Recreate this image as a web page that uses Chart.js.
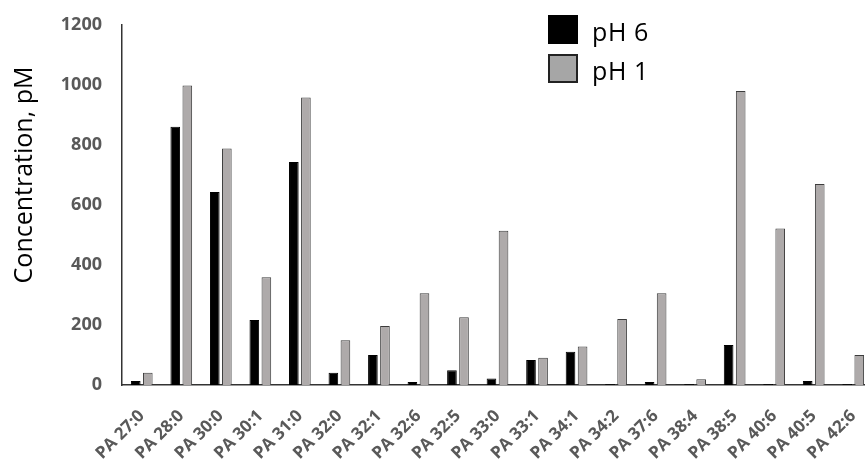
<!DOCTYPE html>
<html>
<head>
<meta charset="utf-8">
<script src="https://cdn.jsdelivr.net/npm/chart.js@4"></script>
<style>
  html, body { margin: 0; padding: 0; background: #fff; overflow: hidden; }
  #wrap { position: relative; width: 865px; height: 464px; overflow: hidden; }
  .legend-row { position: absolute; left: 548px; height: 30px; display: flex; align-items: center;
    font-family: "Open Sans", sans-serif; font-size: 25px; letter-spacing: 0.6px; color: #000; }
  .legend-box { width: 30px; height: 29px; margin-right: 14px; box-sizing: border-box; }
</style>
</head>
<body>
<div id="wrap">
  <!-- the plot area runs a little past the right edge, as in the original -->
  <canvas id="chart" width="873" height="464"></canvas>
  <div class="legend-row" style="top:16px"><span class="legend-box" style="background:#000;border:1px solid #000;margin-top:-3px"></span>pH 6</div>
  <div class="legend-row" style="top:55px"><span class="legend-box" style="background:#a6a6a6;border:2px solid #222;margin-top:-3px"></span>pH 1</div>
</div>
<script>
const lipids = ['PA 27:0', 'PA 28:0', 'PA 30:0', 'PA 30:1', 'PA 31:0', 'PA 32:0', 'PA 32:1', 'PA 32:6', 'PA 32:5', 'PA 33:0',
  'PA 33:1', 'PA 34:1', 'PA 34:2', 'PA 37:6', 'PA 38:4', 'PA 38:5', 'PA 40:6', 'PA 40:5', 'PA 42:6'];
const ph6 = [13, 861, 643, 217, 743, 41, 100, 10, 49, 22, 83, 111, 3, 10, 3, 133, 3, 13, 3];
const ph1 = [41, 998, 788, 359, 958, 149, 197, 306, 226, 514, 91, 128, 220, 306, 19, 980, 522, 670, 100];
const yTicks = [0, 200, 400, 600, 800, 1000, 1200];

const tickFont = { family: '"Open Sans", sans-serif', size: 18, weight: 'bold' };

// y axis title drawn by hand so it sits where the original has it
const yTitle = {
    id: 'yTitle',
    afterDraw(chart) {
        const ctx = chart.ctx;
        ctx.save();
        ctx.translate(25, 175);
        ctx.rotate(-Math.PI / 2);
        ctx.font = '25px "Open Sans", sans-serif';
        ctx.fillStyle = '#000';
        ctx.textAlign = 'center';
        ctx.textBaseline = 'middle';
        ctx.fillText('Concentration, pM', 0, 0);
        ctx.restore();
    }
};

new Chart(document.getElementById('chart'), {
    type: 'bar',
    data: {
        labels: lipids,
        datasets: [
            { label: 'pH 6', data: ph6, backgroundColor: '#000', borderColor: '#000', borderWidth: 1 },
            { label: 'pH 1', data: ph1, backgroundColor: '#aeaaaa', borderColor: '#3c3c3c', borderWidth: 1 }
        ]
    },
    options: {
        responsive: false,
        animation: false,
        devicePixelRatio: 1,
        datasets: { bar: { categoryPercentage: 0.61, barPercentage: 0.8 } },
        layout: { padding: { top: 25, right: 0, left: 0, bottom: 0 } },
        plugins: { legend: { display: false }, tooltip: { enabled: false } },
        scales: {
            x: {
                grid: { display: false, drawTicks: false },
                border: { display: true, color: '#333', width: 1.5 },
                ticks: { color: '#595959', font: { ...tickFont, size: 17 }, maxRotation: 45, minRotation: 45, padding: 21, autoSkip: false },
                afterFit: s => { s.height = 79; s.paddingLeft = 0; s.paddingRight = 0; }
            },
            y: {
                min: 0, max: 1200,
                afterBuildTicks: s => { s.ticks = yTicks.map(v => ({ value: v })); },
                grid: { display: false, drawTicks: false },
                border: { display: true, color: '#333', width: 1.5 },
                ticks: { color: '#595959', font: tickFont, padding: 20, callback: v => String(v) },
                afterFit: s => { s.width = 122; s.paddingTop = 0; s.paddingBottom = 0; }
            }
        }
    },
    plugins: [yTitle]
});
</script>
</body>
</html>
